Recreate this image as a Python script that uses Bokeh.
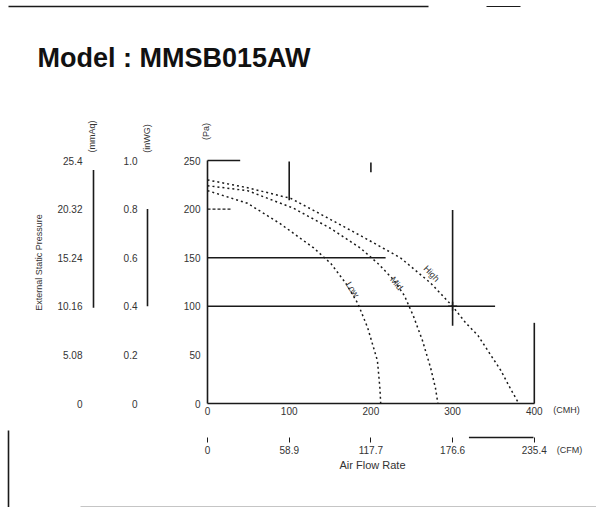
import math
from bokeh.plotting import figure
from bokeh.models import LinearAxis, Range1d, FixedTicker, Label, CustomJSTickFormatter
from bokeh.core.properties import value
from bokeh.embed import file_html
from bokeh.resources import INLINE

# ---------------- data ----------------
title_text = "Model : MMSB015AW"
pa_ticks = [0, 50, 100, 150, 200, 250]
inwg_ticks = [0, 0.2, 0.4, 0.6, 0.8, 1.0]
mmaq_ticks = [0, 5.08, 10.16, 15.24, 20.32, 25.4]
cmh_ticks = [0, 100, 200, 300, 400]
cfm_ticks = [0, 58.9, 117.7, 176.6, 235.4]

hi_cmh = [0, 49, 102, 138, 191, 236, 273, 300, 316, 331, 359, 371, 381]
hi_pa = [230, 222, 211, 195, 171, 150, 124, 100, 83, 70, 34, 15, 0]
mid_cmh = [0, 49, 105, 151, 187, 210, 228, 241, 252, 263, 273, 279, 282]
mid_pa = [224, 219, 201, 180, 160, 143, 127, 111, 90, 65, 37, 16, 0]
lo_cmh = [0, 49, 89, 130, 151, 169, 184, 196, 208, 211, 212]
lo_pa = [219, 206, 185, 160, 144, 124, 103, 78, 44, 16, 0]
curve_names = ["High", "Mid", "Low"]

op_cmh, op_pa = 300, 100          # design point
# faded grid fragments visible in the scan: (value, from, to)
h_frag = [(100, 0, 352), (150, 0, 218), (250, 0, 40)]
h_frag_dash = [(200, 0, 30)]
v_frag = [(300, 80, 199), (100, 209, 249), (200, 238, 248), (400, 0, 83)]

# ---------------- geometry (page px) ----------------
W, H = 596, 507
OX, OY = 0, 0           # page position of the canvas
X0, KX = 207.0, 0.817   # page x of 0 m3/h, px per m3/h
Y0, KY = 403.0, 0.972   # page y of 0 Pa, px per Pa
def dx(px):
    return (px - X0) / KX
def dy(py):
    return (Y0 - py) / KY

CFM = 0.5886
INWG = 1 / 250.0
MMAQ = 25.4 / 250.0

p = figure(width=W, height=H,
           x_range=Range1d(dx(OX), dx(OX + W)), y_range=Range1d(dy(OY + H), dy(OY)),
           x_axis_type=None, y_axis_type=None,
           output_backend="svg", toolbar_location=None, min_border=0)
p.outline_line_color = None
p.background_fill_color = "white"
p.border_fill_color = "white"
p.extra_y_ranges = {
    "inwg": Range1d(dy(OY + H) * INWG, dy(OY) * INWG),
    "mmaq": Range1d(dy(OY + H) * MMAQ, dy(OY) * MMAQ),
}
p.extra_x_ranges = {"cfm": Range1d(dx(OX) * CFM, dx(OX + W) * CFM)}

FONT = "Liberation Sans"
INK = "#1a1a1a"
TXT = "#333333"

def style(ax, standoff, line=True):
    ax.major_tick_out = 0
    ax.major_tick_in = 0
    ax.minor_tick_out = 0
    ax.minor_tick_in = 0
    ax.major_label_standoff = standoff
    ax.major_label_text_font = FONT
    ax.major_label_text_font_size = "10px"
    ax.major_label_text_color = TXT
    ax.axis_line_color = INK if line else None
    ax.axis_line_width = 1.6

# y axes (Pa, inWG, mmAq)
pa_ax = LinearAxis(fixed_location=0, ticker=FixedTicker(ticks=pa_ticks))
style(pa_ax, 7)
pa_ax.bounds = (0, 250)
p.add_layout(pa_ax, "left")

inwg_ax = LinearAxis(y_range_name="inwg", fixed_location=dx(147),
                     ticker=FixedTicker(ticks=inwg_ticks),
                     formatter=CustomJSTickFormatter(code="return tick == 0 ? '0' : tick.toFixed(1)"))
style(inwg_ax, 10, line=False)
p.add_layout(inwg_ax, "left")

mmaq_ax = LinearAxis(y_range_name="mmaq", fixed_location=dx(93),
                     ticker=FixedTicker(ticks=mmaq_ticks),
                     formatter=CustomJSTickFormatter(code="return String(tick)"))
style(mmaq_ax, 11, line=False)
p.add_layout(mmaq_ax, "left")

# partial axis lines of the side columns
p.segment(x0=[dx(147), dx(93)], y0=[0.4 / INWG, 10.0 / MMAQ],
          x1=[dx(147), dx(93)], y1=[0.8 / INWG, 24.4 / MMAQ],
          line_color=INK, line_width=1.6)

# x axes (m3/h, CFM)
cmh_ax = LinearAxis(fixed_location=0, ticker=FixedTicker(ticks=cmh_ticks))
style(cmh_ax, 3)
cmh_ax.bounds = (0, 400)
p.add_layout(cmh_ax, "below")

cfm_ax = LinearAxis(x_range_name="cfm", fixed_location=dy(437),
                    ticker=FixedTicker(ticks=cfm_ticks),
                    formatter=CustomJSTickFormatter(code="return tick == 0 ? '0' : tick.toFixed(1)"))
style(cfm_ax, 3, line=False)
cfm_ax.major_tick_out = 5
cfm_ax.major_tick_line_color = INK
p.add_layout(cfm_ax, "below")
p.segment(x0=[320], y0=[dy(437)], x1=[399], y1=[dy(437)], line_color=INK, line_width=1.6)
p.add_layout(Label(x=dx(372), y=dy(464), text="Air Flow Rate", text_font=FONT,
                   text_font_size="11px", text_color=TXT,
                   text_align="center", text_baseline="middle"))

# grid fragments
p.segment(x0=[a for _, a, _b in h_frag], y0=[v for v, _, _b in h_frag],
          x1=[b for _, _a, b in h_frag], y1=[v for v, _, _b in h_frag],
          line_color=INK, line_width=1.6)
p.segment(x0=[a for _, a, _b in h_frag_dash], y0=[v for v, _, _b in h_frag_dash],
          x1=[b for _, _a, b in h_frag_dash], y1=[v for v, _, _b in h_frag_dash],
          line_color=INK, line_width=1.4, line_dash="3 2")
p.segment(x0=[v for v, _, _b in v_frag], y0=[a for _, a, _b in v_frag],
          x1=[v for v, _, _b in v_frag], y1=[b for _, _a, b in v_frag],
          line_color=INK, line_width=1.6)

# fan curves
for xs, ys in [(hi_cmh, hi_pa), (mid_cmh, mid_pa), (lo_cmh, lo_pa)]:
    p.line(xs, ys, line_color=INK, line_width=1.5, line_dash="2 3")
p.scatter([op_cmh], [op_pa], marker="cross", size=9, line_color=INK, line_width=1.5)

# curve names along the curves
p.text(x=[dx(431), dx(396), dx(352)], y=[dy(273), dy(283), dy(289)], text=curve_names,
       angle=[-0.8, -0.9, -1.0], text_font=value(FONT), text_font_size=value("9px"),
       text_color=TXT, text_align="center", text_baseline="middle")

# units
for px, py, t in [(91, 136, "(mmAq)"), (146, 138, "(inWG)"), (205, 131, "(Pa)")]:
    p.add_layout(Label(x=dx(px), y=dy(py), text=t, angle=math.pi / 2,
                       text_font=FONT, text_font_size="9px", text_color=TXT,
                       text_align="center", text_baseline="middle"))
for px, py, t in [(566, 409, "(CMH)"), (569, 449, "(CFM)")]:
    p.add_layout(Label(x=dx(px), y=dy(py), text=t, text_font=FONT, text_font_size="9px",
                       text_color=TXT, text_align="center", text_baseline="middle"))
p.add_layout(Label(x=dx(38), y=dy(262), text="External Static Pressure", angle=math.pi / 2,
                   text_font=FONT, text_font_size="9px", text_color=TXT,
                   text_align="center", text_baseline="middle"))

# title
p.add_layout(Label(x=dx(37), y=dy(57), text=title_text, text_font=FONT,
                   text_font_size="27px", text_font_style="bold", text_color="#111111",
                   text_align="left", text_baseline="alphabetic"))

# page border lines from the scanned sheet
p.segment(x0=[dx(8), dx(80), dx(8), dx(486)], y0=[dy(6), dy(507), dy(430), dy(6)],
          x1=[dx(428), dx(596), dx(8), dx(520)], y1=[dy(6), dy(507), dy(507), dy(6)],
          line_color=INK, line_width=[1.6, 1.6, 1.6, 1.2])

open("out.html", "w").write(file_html(p, INLINE))
